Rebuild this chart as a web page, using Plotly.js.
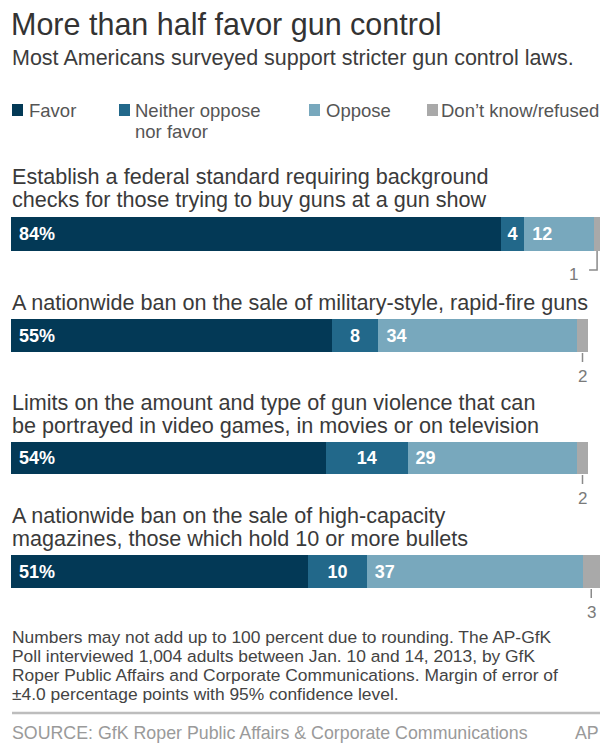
<!DOCTYPE html>
<html>
<head>
<meta charset="utf-8">
<script src="https://cdn.plot.ly/plotly-3.0.1.min.js"></script>
<style>
  html, body { margin: 0; padding: 0; background: #ffffff; }
  #chart { width: 609px; height: 748px; }
</style>
</head>
<body>
<div id="chart"></div>
<script>
// ---------- data ----------
const chartTitle = "More than half favor gun control";
const chartSubtitle = "Most Americans surveyed support stricter gun control laws.";
const questions = [
  "Establish a federal standard requiring background<br>checks for those trying to buy guns at a gun show",
  "A nationwide ban on the sale of military-style, rapid-fire guns",
  "Limits on the amount and type of gun violence that can<br>be portrayed in video games, in movies or on television",
  "A nationwide ban on the sale of high-capacity<br>magazines, those which hold 10 or more bullets"
];
const seriesNames = ["Favor", "Neither oppose<br>nor favor", "Oppose", "Don\u2019t know/refused"];
const favor    = [84, 55, 54, 51];
const neither  = [4, 8, 14, 10];
const oppose   = [12, 34, 29, 37];
const dontKnow = [1, 2, 2, 3];
const footnoteLines = [
  "Numbers may not add up to 100 percent due to rounding. The AP-GfK",
  "Poll interviewed 1,004 adults between Jan. 10 and 14, 2013, by GfK",
  "Roper Public Affairs and Corporate Communications. Margin of error of",
  "\u00b14.0 percentage points with 95% confidence level."
];
const sourceText = "SOURCE: GfK Roper Public Affairs & Corporate Communications";
const creditText = "AP";

// ---------- layout helpers ----------
const W = 609, H = 748;
const FONT = "Liberation Sans, Arial, Helvetica, sans-serif";
const px = p => p / W;
const py = p => 1 - p / H;
const colors = ["#033956", "#22688a", "#78a8bd", "#a9a9a9"];
const barTop = [217, 319, 442, 555];
const barBottom = [251, 352, 474, 588];
const legendSquareX = [12, 119, 309, 427];
const legendTextX = [27, 133, 324, 439];

const series = [favor, neither, oppose, dontKnow];
const traces = [];
const annotations = [];
const shapes = [];
const layout = {
  width: W, height: H,
  margin: {l: 0, r: 0, t: 0, b: 0},
  paper_bgcolor: "#ffffff", plot_bgcolor: "rgba(0,0,0,0)",
  barmode: "stack", bargap: 0,
  showlegend: false,
  font: {family: FONT},
  title: {
    text: chartTitle, x: px(11), xref: "paper", xanchor: "left",
    y: py(24), yref: "container", yanchor: "middle",
    font: {family: FONT, size: 30.5, color: "#333333"}
  },
  xaxis: {domain: [px(11), px(600)], range: [0, 101], visible: false, fixedrange: true}
};

questions.forEach((q, i) => {
  const yName = i === 0 ? "yaxis" : "yaxis" + (i + 1);
  const yRef = i === 0 ? "y" : "y" + (i + 1);
  layout[yName] = {
    domain: [py(barBottom[i]), py(barTop[i])],
    range: [-0.5, 0.5], type: "category", anchor: "x",
    visible: false, fixedrange: true
  };
  series.forEach((vals, s) => {
    const t = {
      type: "bar", orientation: "h",
      x: [vals[i]], y: ["q" + i],
      xaxis: "x", yaxis: yRef,
      name: seriesNames[s],
      marker: {color: colors[s], line: {width: 0}},
      showlegend: false, hoverinfo: "skip",
      textangle: 0,
      textfont: {family: FONT, size: 18, color: "#ffffff", weight: "bold"}
    };
    if (s === 0) {
      t.text = ["&nbsp;" + vals[i] + "%"]; t.textposition = "inside"; t.insidetextanchor = "start";
    } else if (s === 1) {
      t.text = [String(vals[i])]; t.textposition = "inside"; t.insidetextanchor = "middle";
    } else if (s === 2) {
      t.text = ["&nbsp;" + vals[i]]; t.textposition = "inside"; t.insidetextanchor = "start";
    } else {
      t.textposition = "none";
    }
    traces.push(t);
  });

  // question text lines
  const lines = q.split("<br>");
  lines.forEach((ln, k) => {
    annotations.push({
      xref: "paper", yref: "paper", x: px(10), y: py(barTop[i] - 17 - 23 * (lines.length - 1 - k)),
      xanchor: "left", yanchor: "middle", showarrow: false, text: ln,
      font: {family: FONT, size: 21.6, color: "#3a3a3a"}
    });
  });

  // don't know labels
  const total = favor[i] + neither[i] + oppose[i] + dontKnow[i];
  const xc = total - dontKnow[i] / 2;
  const dkFont = {family: FONT, size: 17, color: "#7a7a7a"};
  if (dontKnow[i] < 2) {
    shapes.push({
      type: "path", xref: "x", yref: yRef + " domain",
      xsizemode: "pixel", ysizemode: "pixel", xanchor: xc, yanchor: 0,
      path: "M0,0 V-19 H-8", line: {color: "#8a8a8a", width: 1.5}
    });
    annotations.push({
      xref: "x", yref: yRef, x: xc, y: -0.5, text: String(dontKnow[i]),
      showarrow: false, xshift: -24, yshift: -24, font: dkFont
    });
  } else {
    annotations.push({
      xref: "x", yref: yRef, x: xc, y: -0.5, text: String(dontKnow[i]),
      showarrow: true, arrowhead: 0, arrowwidth: 1.5, arrowcolor: "#8a8a8a",
      ax: 0, ay: 24, standoff: 1, startstandoff: 3, font: dkFont
    });
  }
});

// subtitle
annotations.push({
  xref: "paper", yref: "paper", x: px(10), y: py(58), xanchor: "left", yanchor: "middle",
  showarrow: false, text: chartSubtitle, font: {family: FONT, size: 21.5, color: "#3c3c3c"}
});

// legend (built from series names and colours)
seriesNames.forEach((nm, s) => {
  shapes.push({
    type: "rect", xref: "paper", yref: "paper",
    x0: px(legendSquareX[s]), x1: px(legendSquareX[s] + 11),
    y0: py(116), y1: py(104),
    fillcolor: colors[s], line: {width: 0}
  });
  nm.split("<br>").forEach((ln, k) => {
    annotations.push({
      xref: "paper", yref: "paper", x: px(legendTextX[s]), y: py(110 + 21 * k),
      xanchor: "left", yanchor: "middle", showarrow: false, text: ln,
      font: {family: FONT, size: 18.5, color: "#555555"}
    });
  });
});

// footnote
footnoteLines.forEach((ln, k) => {
  annotations.push({
    xref: "paper", yref: "paper", x: px(10), y: py(637 + 19 * k),
    xanchor: "left", yanchor: "middle", showarrow: false, text: ln,
    font: {family: FONT, size: 17.4, color: "#444444"}
  });
});

// separator and source
shapes.push({
  type: "line", xref: "paper", yref: "paper",
  x0: px(12), x1: px(600), y0: py(713), y1: py(713),
  line: {color: "#bdbdbd", width: 2.5}
});
annotations.push({
  xref: "paper", yref: "paper", x: px(10), y: py(733), xanchor: "left", yanchor: "middle",
  showarrow: false, text: sourceText, font: {family: FONT, size: 17.8, color: "#9a9a9a"}
});
annotations.push({
  xref: "paper", yref: "paper", x: px(601), y: py(733), xanchor: "right", yanchor: "middle",
  showarrow: false, text: creditText, font: {family: FONT, size: 17.8, color: "#9a9a9a"}
});

layout.annotations = annotations;
layout.shapes = shapes;

Plotly.newPlot("chart", traces, layout, {staticPlot: true, displayModeBar: false, responsive: false});
</script>
</body>
</html>
